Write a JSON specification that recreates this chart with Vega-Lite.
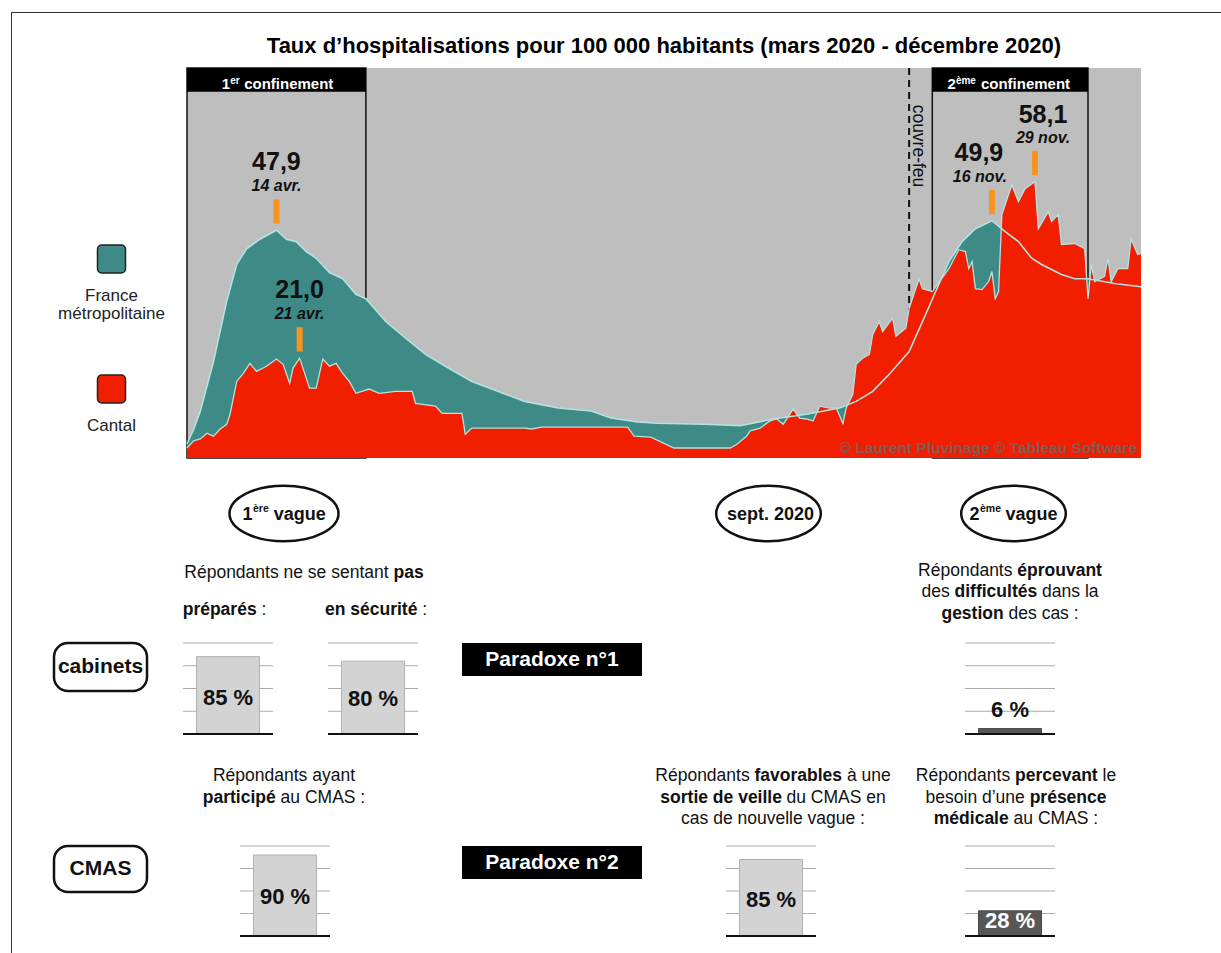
{
"$schema": "https://vega.github.io/schema/vega-lite/v6.json",
"background": "#ffffff",
"padding": {"left": 11, "top": 12, "right": 0, "bottom": 0},
"config": {
  "view": {"stroke": null},
  "font": "Liberation Sans, Arial, Helvetica, sans-serif",
  "text": {"font": "Liberation Sans, Arial, Helvetica, sans-serif", "color": "#111111"},
  "axis": {"labels": false, "ticks": false, "domain": false},
  "locale": {"number": {"decimal": ",", "thousands": "\u00a0", "grouping": [3], "currency": ["", "\u00a0€"], "percent": "\u00a0%"}}
},
"datasets": {
  "france": [
    {"date": "2020-03-18", "value": 3.0}, {"date": "2020-03-20", "value": 6.0}, {"date": "2020-03-22", "value": 9.8},
    {"date": "2020-03-26", "value": 20.3}, {"date": "2020-03-30", "value": 33.0}, {"date": "2020-04-02", "value": 40.7},
    {"date": "2020-04-05", "value": 44.0}, {"date": "2020-04-09", "value": 46.0}, {"date": "2020-04-14", "value": 47.9},
    {"date": "2020-04-17", "value": 46.0}, {"date": "2020-04-20", "value": 45.5}, {"date": "2020-04-23", "value": 43.4},
    {"date": "2020-04-26", "value": 42.0}, {"date": "2020-04-30", "value": 39.0}, {"date": "2020-05-04", "value": 37.7},
    {"date": "2020-05-08", "value": 34.4}, {"date": "2020-05-11", "value": 33.5}, {"date": "2020-05-17", "value": 28.7},
    {"date": "2020-05-23", "value": 25.2}, {"date": "2020-05-29", "value": 21.8}, {"date": "2020-06-04", "value": 19.3},
    {"date": "2020-06-12", "value": 16.1}, {"date": "2020-06-20", "value": 14.0}, {"date": "2020-06-28", "value": 11.9},
    {"date": "2020-07-08", "value": 10.5}, {"date": "2020-07-18", "value": 9.9}, {"date": "2020-07-24", "value": 8.4},
    {"date": "2020-08-01", "value": 7.6}, {"date": "2020-08-07", "value": 7.3}, {"date": "2020-08-21", "value": 7.1},
    {"date": "2020-09-01", "value": 6.8}, {"date": "2020-09-11", "value": 8.2}, {"date": "2020-09-21", "value": 9.2},
    {"date": "2020-10-01", "value": 10.5}, {"date": "2020-10-06", "value": 11.9}, {"date": "2020-10-11", "value": 14.0},
    {"date": "2020-10-16", "value": 17.6}, {"date": "2020-10-22", "value": 22.4}, {"date": "2020-10-27", "value": 30.2},
    {"date": "2020-10-30", "value": 35.0}, {"date": "2020-11-03", "value": 41.3}, {"date": "2020-11-07", "value": 45.5},
    {"date": "2020-11-11", "value": 48.2}, {"date": "2020-11-16", "value": 49.9}, {"date": "2020-11-20", "value": 47.6},
    {"date": "2020-11-24", "value": 45.5}, {"date": "2020-11-28", "value": 42.0}, {"date": "2020-12-01", "value": 40.7},
    {"date": "2020-12-07", "value": 38.6}, {"date": "2020-12-11", "value": 37.7}, {"date": "2020-12-15", "value": 37.7},
    {"date": "2020-12-23", "value": 36.7}, {"date": "2020-12-31", "value": 36.0}
  ],
  "cantal": [
    {"date": "2020-03-18", "value": 2.1}, {"date": "2020-03-20", "value": 3.6}, {"date": "2020-03-22", "value": 4.0},
    {"date": "2020-03-24", "value": 5.2}, {"date": "2020-03-26", "value": 4.6}, {"date": "2020-03-28", "value": 6.1},
    {"date": "2020-03-30", "value": 7.1}, {"date": "2020-03-31", "value": 9.2}, {"date": "2020-04-02", "value": 16.1},
    {"date": "2020-04-04", "value": 17.8}, {"date": "2020-04-06", "value": 19.9}, {"date": "2020-04-08", "value": 18.2},
    {"date": "2020-04-11", "value": 19.3}, {"date": "2020-04-14", "value": 20.8}, {"date": "2020-04-16", "value": 19.7},
    {"date": "2020-04-18", "value": 15.7}, {"date": "2020-04-19", "value": 18.9}, {"date": "2020-04-21", "value": 21.0},
    {"date": "2020-04-24", "value": 14.7}, {"date": "2020-04-26", "value": 14.7}, {"date": "2020-04-28", "value": 20.8},
    {"date": "2020-04-30", "value": 19.3}, {"date": "2020-05-02", "value": 19.9}, {"date": "2020-05-04", "value": 17.8},
    {"date": "2020-05-06", "value": 16.1}, {"date": "2020-05-08", "value": 13.6}, {"date": "2020-05-12", "value": 14.5},
    {"date": "2020-05-15", "value": 13.6}, {"date": "2020-05-20", "value": 14.0}, {"date": "2020-05-25", "value": 14.0},
    {"date": "2020-05-26", "value": 11.5}, {"date": "2020-06-01", "value": 10.9}, {"date": "2020-06-03", "value": 9.4},
    {"date": "2020-06-09", "value": 9.4}, {"date": "2020-06-10", "value": 5.0}, {"date": "2020-06-12", "value": 6.3},
    {"date": "2020-06-28", "value": 6.3}, {"date": "2020-06-30", "value": 6.1}, {"date": "2020-07-03", "value": 6.5},
    {"date": "2020-07-29", "value": 6.5}, {"date": "2020-07-31", "value": 4.6}, {"date": "2020-08-05", "value": 4.4},
    {"date": "2020-08-12", "value": 2.1}, {"date": "2020-08-29", "value": 2.1}, {"date": "2020-08-31", "value": 2.9},
    {"date": "2020-09-03", "value": 4.6}, {"date": "2020-09-04", "value": 5.7}, {"date": "2020-09-07", "value": 6.3},
    {"date": "2020-09-10", "value": 7.8}, {"date": "2020-09-12", "value": 8.2}, {"date": "2020-09-14", "value": 7.1},
    {"date": "2020-09-16", "value": 9.2}, {"date": "2020-09-17", "value": 10.3}, {"date": "2020-09-19", "value": 8.4},
    {"date": "2020-09-21", "value": 8.2}, {"date": "2020-09-23", "value": 7.8}, {"date": "2020-09-25", "value": 10.9},
    {"date": "2020-09-28", "value": 10.5}, {"date": "2020-09-30", "value": 10.5}, {"date": "2020-10-02", "value": 7.3},
    {"date": "2020-10-03", "value": 10.5}, {"date": "2020-10-05", "value": 13.4}, {"date": "2020-10-06", "value": 19.7},
    {"date": "2020-10-08", "value": 21.0}, {"date": "2020-10-10", "value": 21.8}, {"date": "2020-10-11", "value": 26.0},
    {"date": "2020-10-13", "value": 28.7}, {"date": "2020-10-14", "value": 26.6}, {"date": "2020-10-17", "value": 29.4},
    {"date": "2020-10-18", "value": 25.6}, {"date": "2020-10-21", "value": 27.3}, {"date": "2020-10-22", "value": 31.4},
    {"date": "2020-10-25", "value": 37.7}, {"date": "2020-10-26", "value": 35.6}, {"date": "2020-10-29", "value": 35.0},
    {"date": "2020-11-03", "value": 39.8}, {"date": "2020-11-06", "value": 43.8}, {"date": "2020-11-08", "value": 43.4},
    {"date": "2020-11-09", "value": 39.8}, {"date": "2020-11-10", "value": 41.3}, {"date": "2020-11-11", "value": 35.6},
    {"date": "2020-11-13", "value": 35.4}, {"date": "2020-11-15", "value": 37.1}, {"date": "2020-11-16", "value": 39.2},
    {"date": "2020-11-17", "value": 33.5}, {"date": "2020-11-18", "value": 35.0}, {"date": "2020-11-19", "value": 51.2},
    {"date": "2020-11-22", "value": 57.4}, {"date": "2020-11-24", "value": 53.9}, {"date": "2020-11-26", "value": 56.6},
    {"date": "2020-11-29", "value": 58.1}, {"date": "2020-11-30", "value": 48.2}, {"date": "2020-12-03", "value": 51.8},
    {"date": "2020-12-04", "value": 49.7}, {"date": "2020-12-06", "value": 51.2}, {"date": "2020-12-07", "value": 44.9},
    {"date": "2020-12-11", "value": 45.1}, {"date": "2020-12-14", "value": 44.0}, {"date": "2020-12-15", "value": 33.5},
    {"date": "2020-12-16", "value": 40.7}, {"date": "2020-12-17", "value": 37.1}, {"date": "2020-12-20", "value": 38.2},
    {"date": "2020-12-21", "value": 42.0}, {"date": "2020-12-22", "value": 37.1}, {"date": "2020-12-24", "value": 39.8},
    {"date": "2020-12-27", "value": 39.8}, {"date": "2020-12-28", "value": 46.1}, {"date": "2020-12-30", "value": 42.8},
    {"date": "2020-12-31", "value": 43.0}
  ],
  "peaks": [
    {"date": "2020-04-14", "value": 47.9, "when": "14 avr."},
    {"date": "2020-04-21", "value": 21.0, "when": "21 avr."},
    {"date": "2020-11-16", "value": 49.9, "when": "16 nov."},
    {"date": "2020-11-29", "value": 58.1, "when": "29 nov."}
  ],
  "periods": [
    {"period": "1er confinement", "start": "2020-03-18", "end": "2020-05-11"},
    {"period": "2ème confinement", "start": "2020-10-29", "end": "2020-12-15"}
  ],
  "curfew": [{"event": "couvre-feu", "date": "2020-10-22"}]
},
"spacing": 0,
"bounds": "full",
"vconcat": [
  {"width": 1210, "height": 1, "view": {"fill": "#333333", "stroke": null}, "data": {"values": [{}]}, "mark": {"type": "text", "text": "", "fontSize": 0}, "encoding": {}},
  {"spacing": 0, "bounds": "full", "hconcat": [
    {"width": 1, "height": 940, "view": {"fill": "#333333", "stroke": null}, "data": {"values": [{}]}, "mark": {"type": "text", "text": "", "fontSize": 0}, "encoding": {}},
    {"spacing": 0, "bounds": "full", "vconcat": [
      {"spacing": 0, "bounds": "flush", "hconcat": [
        {"width": 175, "height": 54, "data": {"values": [{}]}, "mark": {"type": "text", "text": "", "fontSize": 0}, "encoding": {}},
        {"width": 954, "height": 54, "data": {"values": [{}]},
         "mark": {"type": "text", "text": "Taux d’hospitalisations pour 100 000 habitants (mars 2020 - décembre 2020)", "fontSize": 22, "fontWeight": "bold", "color": "#000000", "align": "center", "baseline": "alphabetic", "dy": 13},
         "encoding": {}}
      ]},
      {"spacing": 0, "bounds": "flush", "hconcat": [
        {"width": 24, "height": 390, "data": {"values": [{}]}, "mark": {"type": "text", "text": "", "fontSize": 0}, "encoding": {}},
        {"width": 151, "height": 390,
         "data": {"values": [{"series": "France métropolitaine"}, {"series": "Cantal"}]},
         "layer": [
           {"mark": {"type": "point", "shape": "M-0.7,-1H0.7A0.3,0.3,0,0,1,1,-0.7V0.7A0.3,0.3,0,0,1,0.7,1H-0.7A0.3,0.3,0,0,1,-1,0.7V-0.7A0.3,0.3,0,0,1,-0.7,-1Z", "size": 784, "filled": true, "stroke": "#222222", "strokeWidth": 1.5, "opacity": 1},
            "encoding": {
              "y": {"field": "series", "type": "nominal", "sort": ["France métropolitaine", "Cantal"], "scale": {"type": "point", "padding": 1, "align": 0.7346}, "axis": null},
              "fill": {"field": "series", "type": "nominal", "scale": {"domain": ["France métropolitaine", "Cantal"], "range": ["#3d8a86", "#f21e00"]}, "legend": null}
            }},
           {"mark": {"type": "text", "fontSize": 17, "baseline": "alphabetic", "dy": 42, "lineBreak": " ", "lineHeight": 18, "color": "#222222"},
            "encoding": {
              "y": {"field": "series", "type": "nominal", "sort": ["France métropolitaine", "Cantal"], "axis": null},
              "text": {"field": "series"}
            }}
         ]},
        {"width": 954, "height": 390,
         "view": {"fill": "#bebebe", "stroke": null},
         "layer": [
           {"data": {"name": "periods"},
            "mark": {"type": "rect", "fill": "#bebebe", "fillOpacity": 0, "stroke": "#111111", "strokeWidth": 1.5},
            "encoding": {
              "x": {"field": "start", "type": "temporal", "scale": {"domain": [{"year": 2020, "month": 3, "date": 18, "utc": true}, {"year": 2020, "month": 12, "date": 31, "utc": true}], "nice": false}, "axis": {"title": null, "grid": false, "domain": true, "domainColor": "#1a1a1a", "domainWidth": 2.5, "zindex": 1}},
              "x2": {"field": "end"},
              "y": {"datum": 82, "type": "quantitative", "scale": {"domain": [0, 82], "nice": false}, "axis": {"title": null, "grid": false, "domain": true, "domainColor": "#1a1a1a", "domainWidth": 2, "zindex": 1}},
              "y2": {"datum": 0}
            }},
           {"data": {"name": "periods"},
            "mark": {"type": "rect", "color": "#000000"},
            "encoding": {
              "x": {"field": "start", "type": "temporal", "axis": null},
              "x2": {"field": "end"},
              "y": {"datum": 82, "axis": null},
              "y2": {"datum": 77}
            }},
           {"data": {"values": [{}]}, "mark": {"type": "text", "text": "1", "fontSize": 15, "fontWeight": "bold", "color": "#ffffff", "align": "left", "baseline": "alphabetic", "dx": -54.6},
            "encoding": {"x": {"datum": {"year": 2020, "month": 4, "date": 14, "utc": true}, "type": "temporal", "axis": null}, "y": {"datum": 77.5, "axis": null}}},
           {"data": {"values": [{}]}, "mark": {"type": "text", "text": "er", "fontSize": 10, "fontWeight": "bold", "color": "#ffffff", "align": "left", "baseline": "alphabetic", "dx": -46.3, "dy": -5},
            "encoding": {"x": {"datum": {"year": 2020, "month": 4, "date": 14, "utc": true}, "type": "temporal", "axis": null}, "y": {"datum": 77.5, "axis": null}}},
           {"data": {"values": [{}]}, "mark": {"type": "text", "text": "confinement", "fontSize": 15, "fontWeight": "bold", "color": "#ffffff", "align": "left", "baseline": "alphabetic", "dx": -32.3},
            "encoding": {"x": {"datum": {"year": 2020, "month": 4, "date": 14, "utc": true}, "type": "temporal", "axis": null}, "y": {"datum": 77.5, "axis": null}}},
           {"data": {"values": [{}]}, "mark": {"type": "text", "text": "2", "fontSize": 15, "fontWeight": "bold", "color": "#ffffff", "align": "left", "baseline": "alphabetic", "dx": -60.9},
            "encoding": {"x": {"datum": {"year": 2020, "month": 11, "date": 21, "utc": true}, "type": "temporal", "axis": null}, "y": {"datum": 77.5, "axis": null}}},
           {"data": {"values": [{}]}, "mark": {"type": "text", "text": "ème", "fontSize": 10, "fontWeight": "bold", "color": "#ffffff", "align": "left", "baseline": "alphabetic", "dx": -52.6, "dy": -5},
            "encoding": {"x": {"datum": {"year": 2020, "month": 11, "date": 21, "utc": true}, "type": "temporal", "axis": null}, "y": {"datum": 77.5, "axis": null}}},
           {"data": {"values": [{}]}, "mark": {"type": "text", "text": "confinement", "fontSize": 15, "fontWeight": "bold", "color": "#ffffff", "align": "left", "baseline": "alphabetic", "dx": -27.6},
            "encoding": {"x": {"datum": {"year": 2020, "month": 11, "date": 21, "utc": true}, "type": "temporal", "axis": null}, "y": {"datum": 77.5, "axis": null}}},
           {"data": {"name": "curfew"},
            "mark": {"type": "rule", "color": "#111111", "strokeWidth": 2, "strokeDash": [7, 5]},
            "encoding": {"x": {"field": "date", "type": "temporal", "axis": null}}},
           {"data": {"values": [{}]}, "mark": {"type": "text", "text": "couvre-feu", "angle": 90, "align": "center", "baseline": "alphabetic", "dy": -4, "fontSize": 17.5, "color": "#111111"},
            "encoding": {"x": {"datum": {"year": 2020, "month": 10, "date": 22, "utc": true}, "type": "temporal", "axis": null}, "y": {"datum": 65.6, "axis": null}}},
           {"data": {"name": "france"},
            "mark": {"type": "area", "color": "#3d8a86"},
            "encoding": {"x": {"field": "date", "type": "temporal", "axis": null}, "y": {"field": "value", "type": "quantitative", "axis": null}}},
           {"data": {"name": "cantal"},
            "mark": {"type": "area", "color": "#f21e00"},
            "encoding": {"x": {"field": "date", "type": "temporal", "axis": null}, "y": {"field": "value", "type": "quantitative", "axis": null}}},
           {"data": {"name": "france"},
            "mark": {"type": "line", "color": "#b3e2e0", "strokeWidth": 1.6},
            "encoding": {"x": {"field": "date", "type": "temporal", "axis": null}, "y": {"field": "value", "type": "quantitative", "axis": null}}},
           {"data": {"name": "cantal"},
            "mark": {"type": "line", "color": "#b3e2e0", "strokeWidth": 1.3},
            "encoding": {"x": {"field": "date", "type": "temporal", "axis": null}, "y": {"field": "value", "type": "quantitative", "axis": null}}},
           {"data": {"values": [{}]}, "mark": {"type": "text", "text": "© Laurent Pluvinage © Tableau Software", "align": "right", "baseline": "alphabetic", "dx": -4, "fontSize": 15.5, "fontWeight": "bold", "color": "#6a6a6a", "opacity": 0.8},
            "encoding": {"x": {"datum": {"year": 2020, "month": 12, "date": 31, "utc": true}, "type": "temporal", "axis": null}, "y": {"datum": 1.0, "axis": null}}},
           {"data": {"name": "peaks"},
            "encoding": {"x": {"field": "date", "type": "temporal", "axis": null}, "y": {"field": "value", "type": "quantitative", "axis": null}},
            "layer": [
              {"mark": {"type": "point", "shape": "M-0.1,-1.03L0.1,-1.03L0.1,-0.22L-0.1,-0.22Z", "size": 3600, "filled": true, "color": "#f7931e", "opacity": 1, "strokeWidth": 0}},
              {"transform": [{"filter": {"field": "when", "oneOf": ["14 avr.", "21 avr."]}}],
               "layer": [
                 {"mark": {"type": "text", "fontSize": 25, "fontWeight": "bold", "baseline": "middle", "dy": -68, "color": "#111111"}, "encoding": {"text": {"field": "value", "type": "quantitative", "format": ".1f"}}},
                 {"mark": {"type": "text", "fontSize": 16, "fontWeight": "bold", "fontStyle": "italic", "baseline": "middle", "dy": -44, "color": "#111111"}, "encoding": {"text": {"field": "when"}}}
               ]},
              {"transform": [{"filter": {"field": "when", "equal": "16 nov."}}],
               "layer": [
                 {"mark": {"type": "text", "fontSize": 25, "fontWeight": "bold", "baseline": "middle", "dy": -68, "dx": -13, "color": "#111111"}, "encoding": {"text": {"field": "value", "type": "quantitative", "format": ".1f"}}},
                 {"mark": {"type": "text", "fontSize": 16, "fontWeight": "bold", "fontStyle": "italic", "baseline": "middle", "dy": -44, "dx": -12, "color": "#111111"}, "encoding": {"text": {"field": "when"}}}
               ]},
              {"transform": [{"filter": {"field": "when", "equal": "29 nov."}}],
               "layer": [
                 {"mark": {"type": "text", "fontSize": 25, "fontWeight": "bold", "baseline": "middle", "dy": -67, "dx": 8, "color": "#111111"}, "encoding": {"text": {"field": "value", "type": "quantitative", "format": ".1f"}}},
                 {"mark": {"type": "text", "fontSize": 16, "fontWeight": "bold", "fontStyle": "italic", "baseline": "middle", "dy": -44, "dx": 8, "color": "#111111"}, "encoding": {"text": {"field": "when"}}}
               ]}
            ]}
         ]}
      ]},
      {"width": 1, "height": 20.5, "data": {"values": [{}]}, "mark": {"type": "text", "text": "", "fontSize": 0}, "encoding": {}},
      {"spacing": 0, "bounds": "flush", "hconcat": [
        {"width": 216, "height": 57, "data": {"values": [{}]}, "mark": {"type": "text", "text": "", "fontSize": 0}, "encoding": {}},
        {"width": 112, "height": 57, "data": {"values": [{}]}, "layer": [
          {"mark": {"type": "point", "shape": "M-1,0A1,0.51,0,1,1,1,0A1,0.51,0,1,1,-1,0Z", "size": 11881, "filled": true, "fill": "#ffffff", "stroke": "#111111", "strokeWidth": 2.5, "opacity": 1}, "encoding": {}},
          {"mark": {"type": "text", "text": "1", "fontSize": 18, "fontWeight": "bold", "align": "left", "baseline": "alphabetic", "dx": -41.4, "dy": 6.5}, "encoding": {}},
          {"mark": {"type": "text", "text": "ère", "fontSize": 10.5, "fontWeight": "bold", "align": "left", "baseline": "alphabetic", "dx": -31, "dy": -1.5}, "encoding": {}},
          {"mark": {"type": "text", "text": "vague", "fontSize": 18, "fontWeight": "bold", "align": "left", "baseline": "alphabetic", "dx": -10.2, "dy": 6.5}, "encoding": {}}
        ]},
        {"width": 375, "height": 57, "data": {"values": [{}]}, "mark": {"type": "text", "text": "", "fontSize": 0}, "encoding": {}},
        {"width": 107, "height": 57, "data": {"values": [{}]}, "layer": [
          {"mark": {"type": "point", "shape": "M-1,0A1,0.53,0,1,1,1,0A1,0.53,0,1,1,-1,0Z", "size": 10941, "filled": true, "fill": "#ffffff", "stroke": "#111111", "strokeWidth": 2.5, "opacity": 1}, "encoding": {}},
          {"mark": {"type": "text", "text": "sept. 2020", "fontSize": 18, "fontWeight": "bold", "align": "center", "baseline": "alphabetic", "dx": 2, "dy": 6.5}, "encoding": {}}
        ]},
        {"width": 138, "height": 57, "data": {"values": [{}]}, "mark": {"type": "text", "text": "", "fontSize": 0}, "encoding": {}},
        {"width": 107, "height": 57, "data": {"values": [{}]}, "layer": [
          {"mark": {"type": "point", "shape": "M-1,0A1,0.53,0,1,1,1,0A1,0.53,0,1,1,-1,0Z", "size": 10941, "filled": true, "fill": "#ffffff", "stroke": "#111111", "strokeWidth": 2.5, "opacity": 1}, "encoding": {}},
          {"mark": {"type": "text", "text": "2", "fontSize": 18, "fontWeight": "bold", "align": "left", "baseline": "alphabetic", "dx": -44, "dy": 6.5}, "encoding": {}},
          {"mark": {"type": "text", "text": "ème", "fontSize": 10.5, "fontWeight": "bold", "align": "left", "baseline": "alphabetic", "dx": -33.5, "dy": -1.5}, "encoding": {}},
          {"mark": {"type": "text", "text": "vague", "fontSize": 18, "fontWeight": "bold", "align": "left", "baseline": "alphabetic", "dx": -8, "dy": 6.5}, "encoding": {}}
        ]}
      ]},
      {"spacing": 0, "bounds": "flush", "hconcat": [
        {"width": 170, "height": 94, "data": {"values": [{}]}, "mark": {"type": "text", "text": "", "fontSize": 0}, "encoding": {}},
        {"width": 245, "height": 94, "data": {"values": [{}]}, "layer": [
          {"mark": {"type": "text", "text": "Répondants ne se sentant", "fontSize": 17.5, "align": "left", "baseline": "alphabetic", "dx": -120.2, "dy": -16.5}, "encoding": {}},
          {"mark": {"type": "text", "text": "pas", "fontSize": 17.5, "fontWeight": "bold", "align": "left", "baseline": "alphabetic", "dx": 89, "dy": -16.5}, "encoding": {}},
          {"mark": {"type": "text", "text": "préparés", "fontSize": 17.5, "fontWeight": "bold", "align": "left", "baseline": "alphabetic", "dx": -121.8, "dy": 20.5}, "encoding": {}},
          {"mark": {"type": "text", "text": ":", "fontSize": 17.5, "align": "left", "baseline": "alphabetic", "dx": -43, "dy": 20.5}, "encoding": {}},
          {"mark": {"type": "text", "text": "en sécurité", "fontSize": 17.5, "fontWeight": "bold", "align": "left", "baseline": "alphabetic", "dx": 20.5, "dy": 20.5}, "encoding": {}},
          {"mark": {"type": "text", "text": ":", "fontSize": 17.5, "align": "left", "baseline": "alphabetic", "dx": 117.8, "dy": 20.5}, "encoding": {}}
        ]},
        {"width": 488, "height": 94, "data": {"values": [{}]}, "mark": {"type": "text", "text": "", "fontSize": 0}, "encoding": {}},
        {"width": 190, "height": 94, "data": {"values": [{}]}, "layer": [
          {"mark": {"type": "text", "text": "Répondants", "fontSize": 17.5, "align": "left", "baseline": "alphabetic", "dx": -91.9, "dy": -18.5}, "encoding": {}},
          {"mark": {"type": "text", "text": "éprouvant", "fontSize": 17.5, "fontWeight": "bold", "align": "left", "baseline": "alphabetic", "dx": 7.3, "dy": -18.5}, "encoding": {}},
          {"mark": {"type": "text", "text": "des", "fontSize": 17.5, "align": "left", "baseline": "alphabetic", "dx": -88.55, "dy": 3}, "encoding": {}},
          {"mark": {"type": "text", "text": "difficultés", "fontSize": 17.5, "fontWeight": "bold", "align": "left", "baseline": "alphabetic", "dx": -55.45, "dy": 3}, "encoding": {}},
          {"mark": {"type": "text", "text": "dans la", "fontSize": 17.5, "align": "left", "baseline": "alphabetic", "dx": 32.1, "dy": 3}, "encoding": {}},
          {"mark": {"type": "text", "text": "gestion", "fontSize": 17.5, "fontWeight": "bold", "align": "left", "baseline": "alphabetic", "dx": -68.55, "dy": 24.5}, "encoding": {}},
          {"mark": {"type": "text", "text": "des cas :", "fontSize": 17.5, "align": "left", "baseline": "alphabetic", "dx": -1.45, "dy": 24.5}, "encoding": {}}
        ]}
      ]},
      {"spacing": 0, "bounds": "flush", "hconcat": [
        {"width": 42, "height": 91, "data": {"values": [{}]}, "mark": {"type": "text", "text": "", "fontSize": 0}, "encoding": {}},
        {"width": 93, "height": 48, "view": {"fill": "#ffffff", "stroke": "#111111", "strokeWidth": 2.5, "cornerRadius": 14},
         "data": {"values": [{"group": "cabinets"}]},
         "mark": {"type": "text", "fontSize": 21, "fontWeight": "bold", "baseline": "middle"},
         "encoding": {"text": {"field": "group"}}},
        {"width": 36, "height": 91, "data": {"values": [{}]}, "mark": {"type": "text", "text": "", "fontSize": 0}, "encoding": {}},
        {"width": 90, "height": 91, "data": {"values": [{"question": "pas préparés", "share": 0.85}]}, "layer": [
          {"mark": {"type": "rule", "color": "#ababab", "strokeWidth": 1}, "encoding": {"y": {"datum": 0.25, "type": "quantitative", "scale": {"domain": [0, 1], "nice": false}, "axis": null}}},
          {"mark": {"type": "rule", "color": "#ababab", "strokeWidth": 1}, "encoding": {"y": {"datum": 0.5, "axis": null}}},
          {"mark": {"type": "rule", "color": "#ababab", "strokeWidth": 1}, "encoding": {"y": {"datum": 0.75, "axis": null}}},
          {"mark": {"type": "rule", "color": "#ababab", "strokeWidth": 1}, "encoding": {"y": {"datum": 1, "axis": null}}},
          {"mark": {"type": "bar", "fill": "#d3d3d3", "stroke": "#b0b0b0", "strokeWidth": 1},
           "encoding": {"x": {"field": "question", "type": "nominal", "axis": null, "scale": {"paddingInner": 0.3, "paddingOuter": 0.15}},
                        "y": {"field": "share", "type": "quantitative", "axis": null}}},
          {"mark": {"type": "rule", "color": "#111111", "strokeWidth": 2}, "encoding": {"y": {"datum": 0, "axis": null}}},
          {"mark": {"type": "text", "fontSize": 22, "fontWeight": "bold", "baseline": "middle", "dy": 41},
           "encoding": {"x": {"field": "question", "type": "nominal", "axis": null}, "y": {"field": "share", "type": "quantitative", "axis": null}, "text": {"field": "share", "type": "quantitative", "format": ".0%"}}}
        ]},
        {"width": 55, "height": 91, "data": {"values": [{}]}, "mark": {"type": "text", "text": "", "fontSize": 0}, "encoding": {}},
        {"width": 90, "height": 91, "data": {"values": [{"question": "pas en sécurité", "share": 0.80}]}, "layer": [
          {"mark": {"type": "rule", "color": "#ababab", "strokeWidth": 1}, "encoding": {"y": {"datum": 0.25, "type": "quantitative", "scale": {"domain": [0, 1], "nice": false}, "axis": null}}},
          {"mark": {"type": "rule", "color": "#ababab", "strokeWidth": 1}, "encoding": {"y": {"datum": 0.5, "axis": null}}},
          {"mark": {"type": "rule", "color": "#ababab", "strokeWidth": 1}, "encoding": {"y": {"datum": 0.75, "axis": null}}},
          {"mark": {"type": "rule", "color": "#ababab", "strokeWidth": 1}, "encoding": {"y": {"datum": 1, "axis": null}}},
          {"mark": {"type": "bar", "fill": "#d3d3d3", "stroke": "#b0b0b0", "strokeWidth": 1},
           "encoding": {"x": {"field": "question", "type": "nominal", "axis": null, "scale": {"paddingInner": 0.3, "paddingOuter": 0.15}},
                        "y": {"field": "share", "type": "quantitative", "axis": null}}},
          {"mark": {"type": "rule", "color": "#111111", "strokeWidth": 2}, "encoding": {"y": {"datum": 0, "axis": null}}},
          {"mark": {"type": "text", "fontSize": 22, "fontWeight": "bold", "baseline": "middle", "dy": 38},
           "encoding": {"x": {"field": "question", "type": "nominal", "axis": null}, "y": {"field": "share", "type": "quantitative", "axis": null}, "text": {"field": "share", "type": "quantitative", "format": ".0%"}}}
        ]},
        {"width": 44, "height": 91, "data": {"values": [{}]}, "mark": {"type": "text", "text": "", "fontSize": 0}, "encoding": {}},
        {"width": 180, "height": 33, "view": {"fill": "#000000", "stroke": null},
         "data": {"values": [{"label": "Paradoxe n°1"}]},
         "mark": {"type": "text", "fontSize": 21, "fontWeight": "bold", "baseline": "middle", "color": "#ffffff"},
         "encoding": {"text": {"field": "label"}}},
        {"width": 323, "height": 91, "data": {"values": [{}]}, "mark": {"type": "text", "text": "", "fontSize": 0}, "encoding": {}},
        {"width": 90, "height": 91, "data": {"values": [{"question": "difficultés gestion", "share": 0.06}]}, "layer": [
          {"mark": {"type": "rule", "color": "#ababab", "strokeWidth": 1}, "encoding": {"y": {"datum": 0.25, "type": "quantitative", "scale": {"domain": [0, 1], "nice": false}, "axis": null}}},
          {"mark": {"type": "rule", "color": "#ababab", "strokeWidth": 1}, "encoding": {"y": {"datum": 0.5, "axis": null}}},
          {"mark": {"type": "rule", "color": "#ababab", "strokeWidth": 1}, "encoding": {"y": {"datum": 0.75, "axis": null}}},
          {"mark": {"type": "rule", "color": "#ababab", "strokeWidth": 1}, "encoding": {"y": {"datum": 1, "axis": null}}},
          {"mark": {"type": "bar", "fill": "#575757", "stroke": "#4a4a4a", "strokeWidth": 1},
           "encoding": {"x": {"field": "question", "type": "nominal", "axis": null, "scale": {"paddingInner": 0.3, "paddingOuter": 0.15}},
                        "y": {"field": "share", "type": "quantitative", "axis": null}}},
          {"mark": {"type": "rule", "color": "#111111", "strokeWidth": 2}, "encoding": {"y": {"datum": 0, "axis": null}}},
          {"mark": {"type": "text", "fontSize": 22, "fontWeight": "bold", "baseline": "middle", "dy": -18.5},
           "encoding": {"x": {"field": "question", "type": "nominal", "axis": null}, "y": {"field": "share", "type": "quantitative", "axis": null}, "text": {"field": "share", "type": "quantitative", "format": ".0%"}}}
        ]}
      ]},
      {"spacing": 0, "bounds": "flush", "hconcat": [
        {"width": 184, "height": 108.25, "data": {"values": [{}]}, "mark": {"type": "text", "text": "", "fontSize": 0}, "encoding": {}},
        {"width": 176, "height": 108.25, "data": {"values": [{}]}, "layer": [
          {"mark": {"type": "text", "text": "Répondants ayant", "fontSize": 17.5, "align": "center", "baseline": "alphabetic", "dy": -8}, "encoding": {}},
          {"mark": {"type": "text", "text": "participé", "fontSize": 17.5, "fontWeight": "bold", "align": "left", "baseline": "alphabetic", "dx": -81.2, "dy": 13.5}, "encoding": {}},
          {"mark": {"type": "text", "text": "au CMAS :", "fontSize": 17.5, "align": "left", "baseline": "alphabetic", "dx": -3.4, "dy": 13.5}, "encoding": {}}
        ]},
        {"width": 285, "height": 108.25, "data": {"values": [{}]}, "mark": {"type": "text", "text": "", "fontSize": 0}, "encoding": {}},
        {"width": 232, "height": 108.25, "data": {"values": [{}]}, "layer": [
          {"mark": {"type": "text", "text": "Répondants", "fontSize": 17.5, "align": "left", "baseline": "alphabetic", "dx": -117.7, "dy": -8}, "encoding": {}},
          {"mark": {"type": "text", "text": "favorables", "fontSize": 17.5, "fontWeight": "bold", "align": "left", "baseline": "alphabetic", "dx": -18.5, "dy": -8}, "encoding": {}},
          {"mark": {"type": "text", "text": "à une", "fontSize": 17.5, "align": "left", "baseline": "alphabetic", "dx": 73.9, "dy": -8}, "encoding": {}},
          {"mark": {"type": "text", "text": "sortie de veille", "fontSize": 17.5, "fontWeight": "bold", "align": "left", "baseline": "alphabetic", "dx": -112.65, "dy": 13.5}, "encoding": {}},
          {"mark": {"type": "text", "text": "du CMAS en", "fontSize": 17.5, "align": "left", "baseline": "alphabetic", "dx": 13.45, "dy": 13.5}, "encoding": {}},
          {"mark": {"type": "text", "text": "cas de nouvelle vague :", "fontSize": 17.5, "align": "center", "baseline": "alphabetic", "dy": 34.5}, "encoding": {}}
        ]},
        {"width": 38, "height": 108.25, "data": {"values": [{}]}, "mark": {"type": "text", "text": "", "fontSize": 0}, "encoding": {}},
        {"width": 178, "height": 108.25, "data": {"values": [{}]}, "layer": [
          {"mark": {"type": "text", "text": "Répondants", "fontSize": 17.5, "align": "left", "baseline": "alphabetic", "dx": -100.2, "dy": -8}, "encoding": {}},
          {"mark": {"type": "text", "text": "percevant", "fontSize": 17.5, "fontWeight": "bold", "align": "left", "baseline": "alphabetic", "dx": -1.0, "dy": -8}, "encoding": {}},
          {"mark": {"type": "text", "text": "le", "fontSize": 17.5, "align": "left", "baseline": "alphabetic", "dx": 86.6, "dy": -8}, "encoding": {}},
          {"mark": {"type": "text", "text": "besoin d’une", "fontSize": 17.5, "align": "left", "baseline": "alphabetic", "dx": -90.45, "dy": 13.5}, "encoding": {}},
          {"mark": {"type": "text", "text": "présence", "fontSize": 17.5, "fontWeight": "bold", "align": "left", "baseline": "alphabetic", "dx": 13.65, "dy": 13.5}, "encoding": {}},
          {"mark": {"type": "text", "text": "médicale", "fontSize": 17.5, "fontWeight": "bold", "align": "left", "baseline": "alphabetic", "dx": -82.2, "dy": 34.5}, "encoding": {}},
          {"mark": {"type": "text", "text": "au CMAS :", "fontSize": 17.5, "align": "left", "baseline": "alphabetic", "dx": -2.4, "dy": 34.5}, "encoding": {}}
        ]}
      ]},
      {"spacing": 0, "bounds": "flush", "hconcat": [
        {"width": 42, "height": 90, "data": {"values": [{}]}, "mark": {"type": "text", "text": "", "fontSize": 0}, "encoding": {}},
        {"width": 93, "height": 46, "view": {"fill": "#ffffff", "stroke": "#111111", "strokeWidth": 2.5, "cornerRadius": 14},
         "data": {"values": [{"group": "CMAS"}]},
         "mark": {"type": "text", "fontSize": 21, "fontWeight": "bold", "baseline": "middle"},
         "encoding": {"text": {"field": "group"}}},
        {"width": 93, "height": 90, "data": {"values": [{}]}, "mark": {"type": "text", "text": "", "fontSize": 0}, "encoding": {}},
        {"width": 90, "height": 90, "data": {"values": [{"question": "participation CMAS", "share": 0.90}]}, "layer": [
          {"mark": {"type": "rule", "color": "#ababab", "strokeWidth": 1}, "encoding": {"y": {"datum": 0.25, "type": "quantitative", "scale": {"domain": [0, 1], "nice": false}, "axis": null}}},
          {"mark": {"type": "rule", "color": "#ababab", "strokeWidth": 1}, "encoding": {"y": {"datum": 0.5, "axis": null}}},
          {"mark": {"type": "rule", "color": "#ababab", "strokeWidth": 1}, "encoding": {"y": {"datum": 0.75, "axis": null}}},
          {"mark": {"type": "rule", "color": "#ababab", "strokeWidth": 1}, "encoding": {"y": {"datum": 1, "axis": null}}},
          {"mark": {"type": "bar", "fill": "#d3d3d3", "stroke": "#b0b0b0", "strokeWidth": 1},
           "encoding": {"x": {"field": "question", "type": "nominal", "axis": null, "scale": {"paddingInner": 0.3, "paddingOuter": 0.15}},
                        "y": {"field": "share", "type": "quantitative", "axis": null}}},
          {"mark": {"type": "rule", "color": "#111111", "strokeWidth": 2}, "encoding": {"y": {"datum": 0, "axis": null}}},
          {"mark": {"type": "text", "fontSize": 22, "fontWeight": "bold", "baseline": "middle", "dy": 42},
           "encoding": {"x": {"field": "question", "type": "nominal", "axis": null}, "y": {"field": "share", "type": "quantitative", "axis": null}, "text": {"field": "share", "type": "quantitative", "format": ".0%"}}}
        ]},
        {"width": 132, "height": 90, "data": {"values": [{}]}, "mark": {"type": "text", "text": "", "fontSize": 0}, "encoding": {}},
        {"width": 180, "height": 33, "view": {"fill": "#000000", "stroke": null},
         "data": {"values": [{"label": "Paradoxe n°2"}]},
         "mark": {"type": "text", "fontSize": 21, "fontWeight": "bold", "baseline": "middle", "color": "#ffffff"},
         "encoding": {"text": {"field": "label"}}},
        {"width": 84, "height": 90, "data": {"values": [{}]}, "mark": {"type": "text", "text": "", "fontSize": 0}, "encoding": {}},
        {"width": 90, "height": 90, "data": {"values": [{"question": "sortie de veille", "share": 0.85}]}, "layer": [
          {"mark": {"type": "rule", "color": "#ababab", "strokeWidth": 1}, "encoding": {"y": {"datum": 0.25, "type": "quantitative", "scale": {"domain": [0, 1], "nice": false}, "axis": null}}},
          {"mark": {"type": "rule", "color": "#ababab", "strokeWidth": 1}, "encoding": {"y": {"datum": 0.5, "axis": null}}},
          {"mark": {"type": "rule", "color": "#ababab", "strokeWidth": 1}, "encoding": {"y": {"datum": 0.75, "axis": null}}},
          {"mark": {"type": "rule", "color": "#ababab", "strokeWidth": 1}, "encoding": {"y": {"datum": 1, "axis": null}}},
          {"mark": {"type": "bar", "fill": "#d3d3d3", "stroke": "#b0b0b0", "strokeWidth": 1},
           "encoding": {"x": {"field": "question", "type": "nominal", "axis": null, "scale": {"paddingInner": 0.3, "paddingOuter": 0.15}},
                        "y": {"field": "share", "type": "quantitative", "axis": null}}},
          {"mark": {"type": "rule", "color": "#111111", "strokeWidth": 2}, "encoding": {"y": {"datum": 0, "axis": null}}},
          {"mark": {"type": "text", "fontSize": 22, "fontWeight": "bold", "baseline": "middle", "dy": 40},
           "encoding": {"x": {"field": "question", "type": "nominal", "axis": null}, "y": {"field": "share", "type": "quantitative", "axis": null}, "text": {"field": "share", "type": "quantitative", "format": ".0%"}}}
        ]},
        {"width": 149, "height": 90, "data": {"values": [{}]}, "mark": {"type": "text", "text": "", "fontSize": 0}, "encoding": {}},
        {"width": 90, "height": 90, "data": {"values": [{"question": "présence médicale", "share": 0.28}]}, "layer": [
          {"mark": {"type": "rule", "color": "#ababab", "strokeWidth": 1}, "encoding": {"y": {"datum": 0.25, "type": "quantitative", "scale": {"domain": [0, 1], "nice": false}, "axis": null}}},
          {"mark": {"type": "rule", "color": "#ababab", "strokeWidth": 1}, "encoding": {"y": {"datum": 0.5, "axis": null}}},
          {"mark": {"type": "rule", "color": "#ababab", "strokeWidth": 1}, "encoding": {"y": {"datum": 0.75, "axis": null}}},
          {"mark": {"type": "rule", "color": "#ababab", "strokeWidth": 1}, "encoding": {"y": {"datum": 1, "axis": null}}},
          {"mark": {"type": "bar", "fill": "#575757", "stroke": "#4a4a4a", "strokeWidth": 1},
           "encoding": {"x": {"field": "question", "type": "nominal", "axis": null, "scale": {"paddingInner": 0.3, "paddingOuter": 0.15}},
                        "y": {"field": "share", "type": "quantitative", "axis": null}}},
          {"mark": {"type": "rule", "color": "#111111", "strokeWidth": 2}, "encoding": {"y": {"datum": 0, "axis": null}}},
          {"mark": {"type": "text", "fontSize": 22, "fontWeight": "bold", "baseline": "middle", "dy": 10.5, "color": "#ffffff"},
           "encoding": {"x": {"field": "question", "type": "nominal", "axis": null}, "y": {"field": "share", "type": "quantitative", "axis": null}, "text": {"field": "share", "type": "quantitative", "format": ".0%"}}}
        ]}
      ]}
    ]}
  ]}
]
}
